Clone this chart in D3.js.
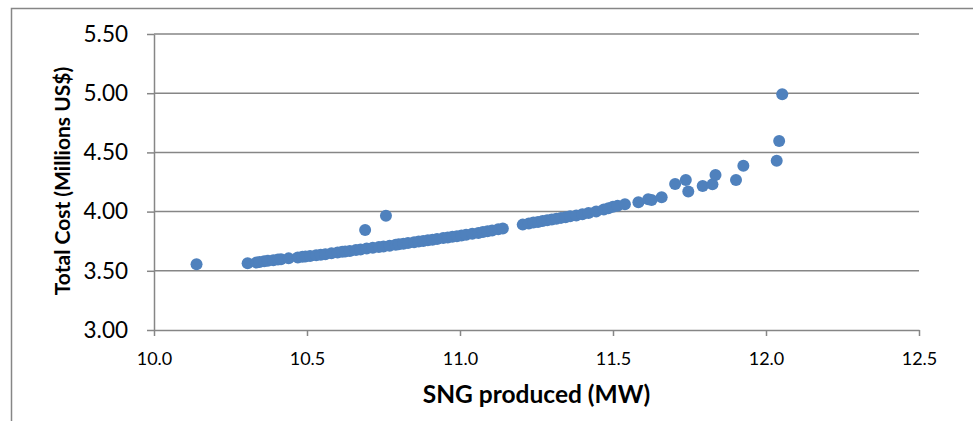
<!DOCTYPE html>
<html>
<head>
<meta charset="utf-8">
<script src="https://cdn.jsdelivr.net/npm/d3@7"></script>
<style>
  body { margin: 0; background: #fff; }
  svg { display: block; font-family: Lato, "Open Sans", sans-serif; }
</style>
</head>
<body>
<svg id="chart"></svg>
<script>
// SNG produced (MW)
const sngValues = [
  10.139,
  10.306, 10.335, 10.345, 10.360, 10.372, 10.390, 10.405, 10.415, 10.440, 10.470,
  10.485, 10.495, 10.510, 10.530, 10.545, 10.560, 10.580, 10.600, 10.615, 10.625,
  10.640, 10.660, 10.675, 10.690, 10.695, 10.715, 10.735, 10.750, 10.758, 10.770,
  10.790, 10.800, 10.815, 10.830, 10.850, 10.865, 10.880, 10.895, 10.910, 10.925,
  10.945, 10.960, 10.975, 10.990, 11.005, 11.020, 11.040, 11.060, 11.075, 11.090,
  11.105, 11.125, 11.140, 11.205, 11.225, 11.240, 11.255, 11.270, 11.285, 11.300,
  11.315, 11.330, 11.345, 11.360, 11.380, 11.400, 11.420, 11.445, 11.470, 11.485,
  11.500, 11.515, 11.539, 11.583, 11.615, 11.626, 11.659, 11.703, 11.738, 11.746,
  11.793, 11.825, 11.835, 11.902, 11.926, 12.035, 12.043, 12.053
];

// Total Cost (Millions US$)
const costValues = [
  3.555,
  3.563, 3.570, 3.574, 3.580, 3.584, 3.590, 3.596, 3.598, 3.605, 3.612,
  3.618, 3.621, 3.625, 3.631, 3.636, 3.640, 3.648, 3.655, 3.660, 3.662,
  3.668, 3.676, 3.680, 3.845, 3.688, 3.694, 3.700, 3.706, 3.965, 3.712,
  3.720, 3.724, 3.729, 3.735, 3.742, 3.748, 3.752, 3.758, 3.763, 3.768,
  3.776, 3.781, 3.787, 3.792, 3.798, 3.804, 3.812, 3.820, 3.827, 3.834,
  3.840, 3.850, 3.858, 3.890, 3.900, 3.907, 3.913, 3.920, 3.926, 3.933,
  3.940, 3.947, 3.953, 3.960, 3.968, 3.978, 3.988, 4.000, 4.018, 4.028,
  4.040, 4.050, 4.062, 4.079, 4.104, 4.098, 4.121, 4.233, 4.267, 4.169,
  4.216, 4.230, 4.309, 4.267, 4.388, 4.430, 4.596, 4.991
];

const xTicks = [10.0, 10.5, 11.0, 11.5, 12.0, 12.5];
const yTicks = [3.00, 3.50, 4.00, 4.50, 5.00, 5.50];
const xTitle = "SNG produced (MW)";
const yTitle = "Total Cost (Millions US$)";

const width = 973, height = 421;
const plot = { left: 154, right: 919, top: 34, bottom: 330 };
const gridColor = "#868686";
const dotColor = "#4f81bd";

const svg = d3.select("#chart").attr("width", width).attr("height", height);

// 外枠
svg.append("rect")
  .attr("x", 11.5).attr("y", 8.5)
  .attr("width", width).attr("height", height)
  .attr("fill", "none")
  .attr("stroke", gridColor)
  .attr("stroke-width", 1.5);

const x = d3.scaleLinear().domain([10, 12.5]).range([plot.left, plot.right]);
const y = d3.scaleLinear().domain([3, 5.5]).range([plot.bottom, plot.top]);

// 横グリッド
svg.append("g")
  .selectAll("line")
  .data(yTicks.slice(1))
  .join("line")
  .attr("x1", plot.left).attr("x2", plot.right)
  .attr("y1", d => y(d)).attr("y2", d => y(d))
  .attr("stroke", gridColor)
  .attr("stroke-width", 1.5);

// x軸
const xaxis = svg.append("g")
  .attr("transform", `translate(0, ${plot.bottom})`)
  .call(d3.axisBottom(x).tickValues(xTicks).tickFormat(d3.format(".1f")).tickSize(6).tickSizeOuter(0));
xaxis.select(".domain").attr("stroke", gridColor).attr("stroke-width", 1.5);
xaxis.selectAll(".tick line").attr("stroke", gridColor).attr("stroke-width", 1.5);
xaxis.selectAll(".tick text")
  .attr("y", 22)
  .attr("dy", "0.71em")
  .attr("font-size", "18px")
  .attr("font-family", "Lato, sans-serif")
  .attr("fill", "#000");

// y軸
const yaxis = svg.append("g")
  .attr("transform", `translate(${plot.left}, 0)`)
  .call(d3.axisLeft(y).tickValues(yTicks).tickFormat(d3.format(".2f")).tickSize(7).tickSizeOuter(0));
yaxis.select(".domain").attr("stroke", gridColor).attr("stroke-width", 1.5);
yaxis.selectAll(".tick line").attr("stroke", gridColor).attr("stroke-width", 1.5);
yaxis.selectAll(".tick text")
  .attr("x", -26)
  .attr("font-size", "22.5px")
  .attr("font-family", "Lato, sans-serif")
  .attr("fill", "#000");

// 点
svg.append("g")
  .selectAll("circle")
  .data(d3.zip(sngValues, costValues))
  .join("circle")
  .attr("cx", d => x(d[0]))
  .attr("cy", d => y(d[1]))
  .attr("r", 6)
  .attr("fill", dotColor);

// 軸タイトル
svg.append("text")
  .attr("x", (plot.left + plot.right) / 2)
  .attr("y", 403)
  .attr("text-anchor", "middle")
  .attr("font-size", "24.5px")
  .attr("font-weight", "bold")
  .text(xTitle);

svg.append("text")
  .attr("transform", "rotate(-90)")
  .attr("x", -181)
  .attr("y", 70)
  .attr("text-anchor", "middle")
  .attr("font-size", "21px")
  .attr("font-weight", "bold")
  .text(yTitle);
</script>
</body>
</html>
